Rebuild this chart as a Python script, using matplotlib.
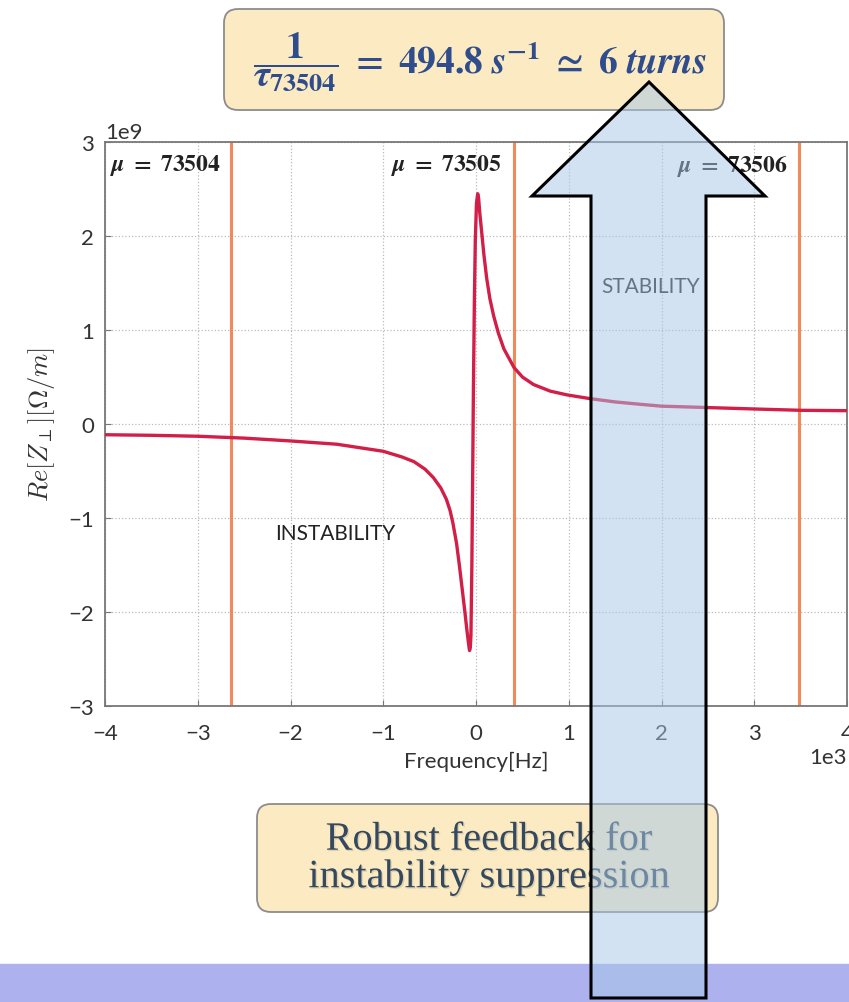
import matplotlib
matplotlib.use("Agg")
import matplotlib.pyplot as plt
from matplotlib.patches import FancyBboxPatch, Rectangle, Polygon
import matplotlib.patheffects as pe

# Transverse impedance of the resonator
freq_hz = [-4000, -3500, -3000, -2500, -2000, -1500, -1000, -800, -670, -550,
           -460, -380, -320, -280, -250, -210, -180, -150, -120, -100, -85, -75,
           -70, -62, -55, -45, -35, -28, -18, -8, 5, 18, 28, 40, 60, 85, 115, 150,
           190, 240, 300, 410, 500, 620, 800, 980, 1230, 1500, 1770, 2000, 2500,
           3000, 3500, 4000]
re_z = [-0.114, -0.12, -0.13, -0.15, -0.18, -0.215, -0.29, -0.35, -0.40, -0.48,
        -0.57, -0.68, -0.80, -0.92, -1.05, -1.27, -1.50, -1.75, -2.0, -2.18, -2.30, -2.38,
        -2.41, -2.38, -2.25, -1.5, -0.4, 0.4,
        1.3, 1.95, 2.35, 2.45, 2.40, 2.25, 2.05, 1.80, 1.55, 1.33,
        1.15, 0.97, 0.80, 0.60, 0.50, 0.42, 0.35, 0.31, 0.27, 0.235, 0.21, 0.19, 0.175,
        0.16, 0.146, 0.142]  # units of 1e9 Ohm/m

# Betatron sidebands (mu) and where they land on the frequency axis
mu_lines_hz = [-2640, 410, 3480]
mu_names = ["73504", "73505", "73506"]
mu_label_x = [-3950, -920, 2170]

fig = plt.figure(figsize=(8.49, 10.03), dpi=100)
ax = fig.add_axes([0.1237, 0.2951, 0.8740, 0.5623])

ax.plot(freq_hz, [v * 1e9 for v in re_z], color="#D11F48", lw=2.4, zorder=3)
for f in mu_lines_hz:
    ax.axvline(f, color="#F08A5D", lw=2.2, zorder=2)
for name, x in zip(mu_names, mu_label_x):
    ax.text(x, 2.76e9, r"$\mathbfit{\mu}\ \mathbf{=\ " + name + "}$",
            fontsize=17, color="#222222", math_fontfamily="stix",
            ha="left", va="center")

ax.text(-1520, -1.16e9, "INSTABILITY", fontsize=15, family="Lato",
        color="#222222", ha="center", va="center")
ax.text(1880, 1.47e9, "STABILITY", fontsize=15, family="Lato",
        color="#222222", ha="center", va="center")

ax.set_xlim(-4000, 4000)
ax.set_ylim(-3e9, 3e9)
ax.ticklabel_format(style="sci", scilimits=(0, 0))
ax.grid(True, ls=":", color="#BBBBBB", lw=0.9)
ax.tick_params(direction="in", length=4, color="#777777", labelsize=16,
               labelcolor="#333333")
ax.tick_params(axis="x", pad=12)
ax.tick_params(axis="y", pad=8)
for lab in ax.get_xticklabels() + ax.get_yticklabels():
    lab.set_family("Lato")
ax.xaxis.get_offset_text().set(family="Lato", fontsize=16, color="#333333")
ax.yaxis.get_offset_text().set(family="Lato", fontsize=16, color="#333333")
for s in ax.spines.values():
    s.set_color("#777777")
    s.set_linewidth(1.3)
ax.set_xlabel("Frequency[Hz]", family="Lato", fontsize=16, color="#333333",
              labelpad=6)
ax.set_ylabel(r"$Re[Z_{\perp}][\Omega/m]$", fontsize=19, color="#333333",
              math_fontfamily="cm", labelpad=8)

# overlay in pixel units for the slide decorations
ov = fig.add_axes([0, 0, 1, 1], zorder=5)
ov.set_xlim(0, 849)
ov.set_ylim(1003, 0)
ov.axis("off")
ov.patch.set_alpha(0)

ov.add_patch(Rectangle((0, 965), 849, 38, color="#ADB1EE", zorder=1))
ov.add_patch(FancyBboxPatch((224, 10), 500, 101, boxstyle="round,pad=0,rounding_size=14",
                            fc="#FCEBC2", ec="#8C8C8C", lw=1.3, zorder=2))
ov.text(480, 62,
        r"$\dfrac{\mathbf{1}}{\mathbfit{\tau}_{\mathbf{73504}}}\mathbf{\ =\ 494.8}\ "
        r"\mathbfit{s}^{\mathbf{-1}}\ \mathbf{\simeq\ 6}\ \mathbfit{turns}$",
        fontsize=27, color="#2F4C8C", math_fontfamily="stix",
        ha="center", va="center", zorder=3)

ov.add_patch(FancyBboxPatch((257, 805), 461, 108, boxstyle="round,pad=0,rounding_size=14",
                            fc="#FCEBC2", ec="#8C8C8C", lw=1.3, zorder=2))
ov.text(489, 860, "Robust feedback for\ninstability suppression", fontsize=29,
        family="Liberation Serif", color="#34495F", ha="center", va="center",
        linespacing=1.0, zorder=3,
        path_effects=[pe.withSimplePatchShadow(offset=(1, -1), alpha=0.12)])

arrow = [(649, 83), (765, 197), (706, 197), (706, 999), (591, 999), (591, 197), (532, 197)]
ov.add_patch(Polygon(arrow, closed=True, fc=(0.65, 0.78, 0.91, 0.5), ec="black",
                     lw=2.2, zorder=4))

fig.savefig("out.png", dpi=100)
